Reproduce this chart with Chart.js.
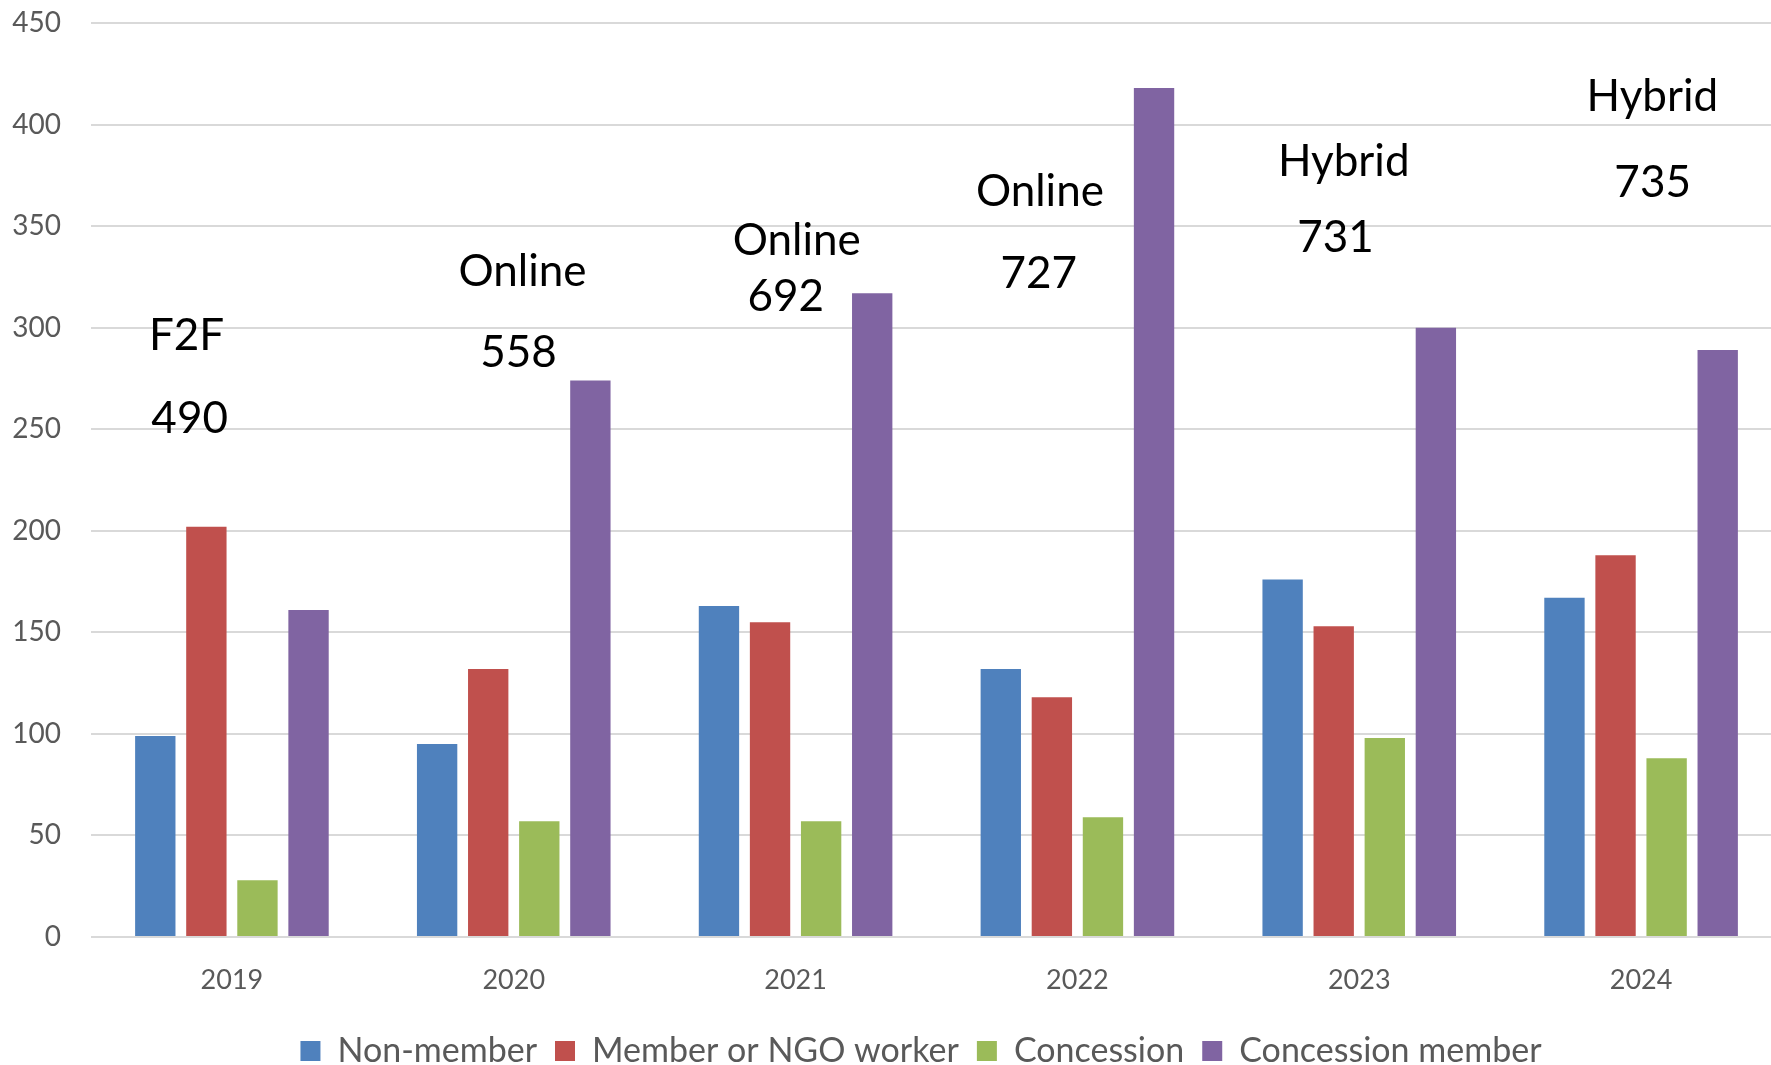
<!DOCTYPE html>
<html>
<head>
<meta charset="utf-8">
<script src="https://cdn.jsdelivr.net/npm/chart.js@4/dist/chart.umd.min.js"></script>
<style>
  html, body { margin: 0; padding: 0; background: #fff; overflow: hidden; }
  #wrap { width: 1800px; height: 1078px; }
</style>
</head>
<body>
<div id="wrap"><canvas id="chart" width="1800" height="1078"></canvas></div>
<script>
const years = ["2019", "2020", "2021", "2022", "2023", "2024"];
const nonMember = [99, 95, 163, 132, 176, 167];
const memberNgo = [202, 132, 155, 118, 153, 188];
const concession = [28, 57, 57, 59, 98, 88];
const concessionMember = [161, 274, 317, 418, 300, 289];

// text above each year group
const formats = ["F2F", "Online", "Online", "Online", "Hybrid", "Hybrid"];
const totals = [490, 558, 692, 727, 731, 735];

// where those notes sit: x offset in category widths, y in axis units
const formatDx = [-0.161, 0.031, 0.004, -0.133, -0.055, 0.040];
const formatY = [296.9, 328.2, 343.6, 367.6, 382.6, 414.6];
const totalDx = [-0.150, 0.017, -0.035, -0.137, -0.084, 0.041];
const totalY = [256.2, 288.5, 316.1, 327.6, 344.9, 372.0];

const FONT = "Lato, 'Open Sans', sans-serif";
const GREY = "#595959";

const yearNotes = {
  id: "yearNotes",
  afterLayout(chart) {
    // legend in the original sits a little right of canvas centre
    chart.legend.left += 30;
    chart.legend.right += 30;
  },
  afterDatasetsDraw(chart) {
    const { ctx, scales: { x, y } } = chart;
    const step = x.getPixelForValue(1) - x.getPixelForValue(0);
    ctx.save();
    ctx.font = "44px " + FONT;
    ctx.fillStyle = "#000";
    ctx.textAlign = "center";
    ctx.textBaseline = "alphabetic";
    const cap = ctx.measureText("H").actualBoundingBoxAscent;
    years.forEach((yr, i) => {
      const cx = x.getPixelForValue(i);
      ctx.fillText(formats[i], cx + formatDx[i] * step, y.getPixelForValue(formatY[i]) + cap / 2);
      ctx.fillText(String(totals[i]), cx + totalDx[i] * step, y.getPixelForValue(totalY[i]) + cap / 2);
    });
    ctx.restore();
  },
};

function bars(label, data, color) {
  return {
    label,
    data,
    backgroundColor: color,
    borderWidth: 0,
    categoryPercentage: 0.725,
    barPercentage: 0.79,
  };
}

new Chart(document.getElementById("chart"), {
  type: "bar",
  data: {
    labels: years,
    datasets: [
      bars("Non-member", nonMember, "#4F81BD"),
      bars("Member or NGO worker", memberNgo, "#C0504D"),
      bars("Concession", concession, "#9BBB59"),
      bars("Concession member", concessionMember, "#8064A2"),
    ],
  },
  options: {
    responsive: false,
    animation: false,
    layout: { padding: { left: 0, right: 18, top: 23, bottom: 0 } },
    scales: {
      x: {
        grid: { display: false },
        border: { display: false },
        ticks: { color: GREY, font: { family: FONT, size: 27 }, padding: 19 },
        afterFit: s => { s.height = 79; },
      },
      y: {
        min: 0,
        max: 450,
        ticks: { stepSize: 50, color: GREY, font: { family: FONT, size: 28 }, padding: 30 },
        grid: { color: "#d9d9d9", lineWidth: 2, drawTicks: false },
        border: { display: false },
        afterFit: s => {
          s.width = 91;
          s.paddingTop = 0;
          s.paddingBottom = 0;
        },
      },
    },
    plugins: {
      legend: {
        position: "bottom",
        labels: {
          color: GREY,
          font: { family: FONT, size: 34 },
          boxWidth: 20,
          boxHeight: 20,
          padding: 18,
        },
      },
      tooltip: { enabled: false },
    },
  },
  plugins: [yearNotes],
});
</script>
</body>
</html>
